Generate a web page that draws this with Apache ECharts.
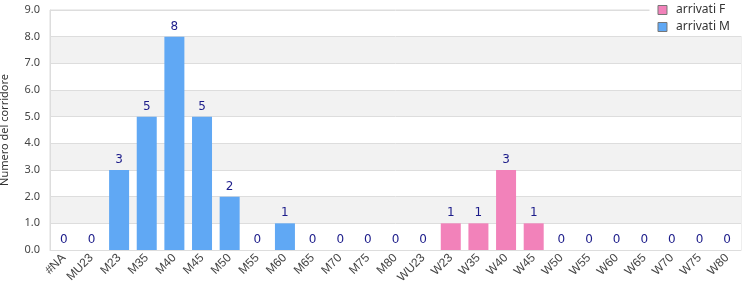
<!DOCTYPE html>
<html>
<head>
<meta charset="utf-8">
<script src="https://cdn.jsdelivr.net/npm/echarts@6/dist/echarts.min.js"></script>
<style>
  html, body { margin: 0; padding: 0; background: #fff; }
  #container { width: 750px; height: 300px; }
</style>
</head>
<body>
<div id="container"></div>
<script>
var categorie = ['#NA', 'MU23', 'M23', 'M35', 'M40', 'M45', 'M50', 'M55', 'M60', 'M65', 'M70', 'M75', 'M80',
    'WU23', 'W23', 'W35', 'W40', 'W45', 'W50', 'W55', 'W60', 'W65', 'W70', 'W75', 'W80'];
// arrivati M: null dove la categoria è femminile
var arrivatiM = [0, 0, 3, 5, 8, 5, 2, 0, 1, 0, 0, 0, 0, 0,
    null, null, null, null, null, null, null, null, null, null, null];
// arrivati F: null dove la categoria è maschile
var arrivatiF = [null, null, null, null, null, null, null, null, null, null, null, null, null, null,
    1, 1, 3, 1, 0, 0, 0, 0, 0, 0, 0];

var dom = document.getElementById("container");
var myChart = echarts.init(dom);

var etichetta = {
    show: true,
    position: 'top',
    distance: 4,
    color: '#1c1c8a',
    fontSize: 12,
    fontFamily: 'DejaVu Sans'
};

var option = {
    animation: false,
    textStyle: { fontFamily: 'DejaVu Sans' },
    grid: {
        left: 50, right: 9, top: 10, bottom: 50,
        outerBoundsMode: 'none',
        containLabel: false,
        show: true,
        borderColor: '#dddddd',
        borderWidth: 1,
        backgroundColor: 'transparent'
    },
    legend: {
        right: 8,
        top: 1,
        orient: 'vertical',
        itemWidth: 9,
        itemHeight: 9,
        itemGap: 5,
        padding: [3, 12, 3, 8],
        backgroundColor: '#ffffff',
        data: [
            { name: 'arrivati F', icon: 'rect', itemStyle: { borderColor: '#777', borderWidth: 1 } },
            { name: 'arrivati M', icon: 'rect', itemStyle: { borderColor: '#777', borderWidth: 1 } }
        ],
        textStyle: { color: '#333', fontSize: 12, fontFamily: 'Noto Sans', padding: [0, 0, 0, 4] }
    },
    xAxis: {
        type: 'category',
        data: categorie,
        axisLine: { show: true, lineStyle: { color: '#dddddd' } },
        axisTick: { show: false },
        axisLabel: {
            interval: 0,
            rotate: 45,
            color: '#444',
            fontSize: 12,
            fontFamily: 'Liberation Sans',
            margin: 6
        }
    },
    yAxis: {
        type: 'value',
        min: 0,
        max: 9,
        interval: 1,
        name: 'Numero del corridore',
        nameLocation: 'middle',
        nameGap: 40,
        nameTextStyle: { color: '#333', fontSize: 11, fontFamily: 'Noto Sans' },
        axisLine: { show: true, lineStyle: { color: '#dddddd' } },
        axisTick: { show: false },
        axisLabel: {
            color: '#444',
            fontSize: 11,
            fontFamily: 'Noto Sans',
            margin: 10,
            formatter: function (v) { return v.toFixed(1); }
        },
        splitLine: { show: true, lineStyle: { color: '#dddddd' } },
        splitArea: { show: true, areaStyle: { color: ['#ffffff', '#f2f2f2'] } }
    },
    series: [
        {
            name: 'arrivati F',
            type: 'bar',
            stack: 'tot',
            barWidth: 20,
            data: arrivatiF,
            itemStyle: { color: '#f282ba' },
            label: etichetta
        },
        {
            name: 'arrivati M',
            type: 'bar',
            stack: 'tot',
            barWidth: 20,
            data: arrivatiM,
            itemStyle: { color: '#60a8f4' },
            label: etichetta
        }
    ]
};

myChart.setOption(option, true);
window.onresize = myChart.resize;
</script>
</body>
</html>
